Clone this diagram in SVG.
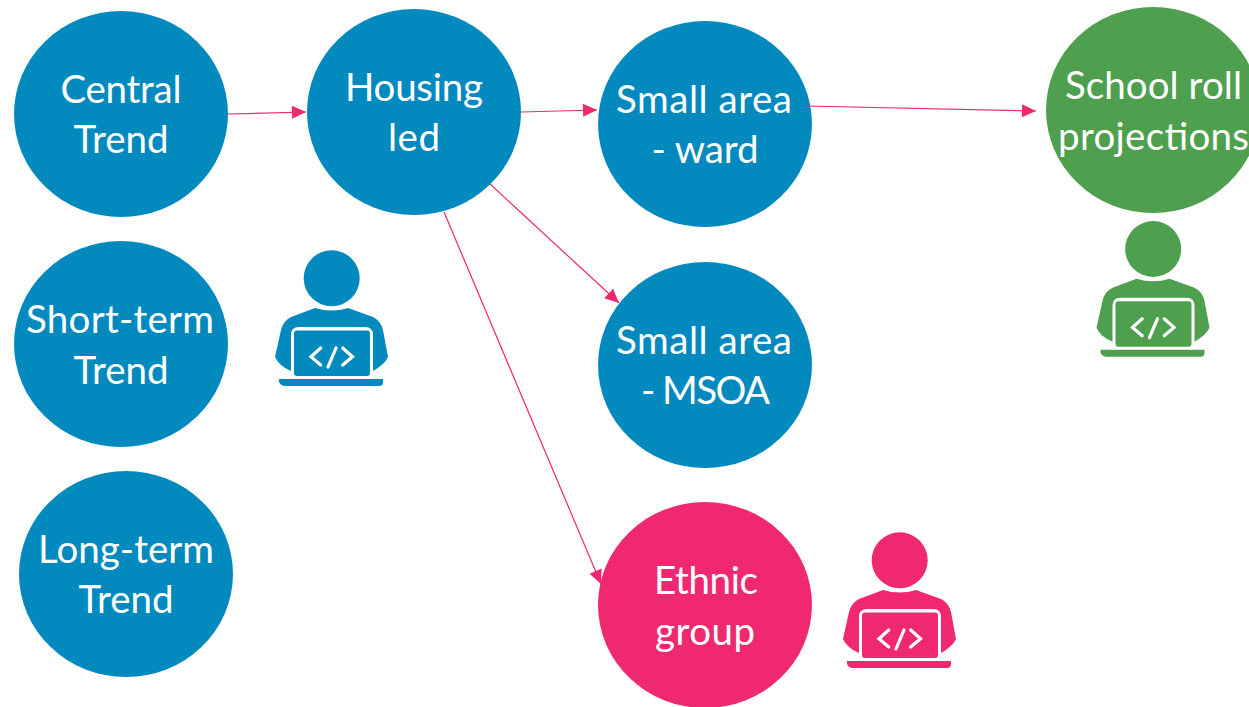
<svg xmlns="http://www.w3.org/2000/svg" xmlns:xlink="http://www.w3.org/1999/xlink" width="1249" height="707" viewBox="0 0 1249 707">
<style>
text{font-family:"Lato","Open Sans",sans-serif;font-size:38.5px;fill:#fff;text-anchor:middle}
.blue{fill:#028ABF}.green{fill:#4EA04F}.pink{fill:#F0286F}
.link{stroke:#F0286F;stroke-width:1.2;fill:none;marker-end:url(#arrow)}
.code{stroke:#fff;stroke-width:3.2;fill:none;stroke-linecap:round}
</style>
<defs>
<marker id="arrow" markerUnits="userSpaceOnUse" markerWidth="16" markerHeight="14" refX="15" refY="7" orient="auto"><path d="M1,0.5 L15,7 L1,13.5 Z" fill="#F0286F"/></marker>
<g id="coder">
<circle cx="71.7" cy="38.3" r="28"/>
<path d="M55,68 Q72,73 88,68 L113,77 Q121,81 123,90 L128,117 Q125,124 113,131 L113,95 Q113,87 105,87 L39,87 Q31,87 31,95 L31,131 Q19,126 15,117 L21,90 Q23,81 31,77 Z"/>
<rect x="34" y="90.5" width="76" height="45.5" rx="3"/>
<path d="M19,139 H123 V142 Q123,146 119,146 H25 Q21,146 19,142 Z"/>
<path class="code" d="M60.7,108 L51,116.7 L60.7,125 M76,108 L68,127 M82.7,108 L92.5,116.7 L82.7,125"/>
</g>
</defs>
<g id="central-trend"><ellipse class="blue" cx="121" cy="114" rx="107" ry="103"/><text x="121" y="103" textLength="121">Central</text><text x="121" y="153" textLength="95">Trend</text></g>
<g id="housing-led"><ellipse class="blue" cx="414" cy="112" rx="107" ry="103"/><text x="414" y="101" textLength="138">Housing</text><text x="414" y="151" textLength="52">led</text></g>
<g id="small-area-ward"><ellipse class="blue" cx="705" cy="124" rx="107" ry="103"/><text x="704" y="113" textLength="176">Small area</text><text x="705" y="163" textLength="107">- ward</text></g>
<g id="school-roll"><ellipse class="green" cx="1153" cy="110" rx="107" ry="103"/><text x="1153.5" y="99" textLength="177">School roll</text><text x="1153.5" y="150" textLength="191">projections</text></g>
<g id="short-term-trend"><ellipse class="blue" cx="121" cy="344" rx="107" ry="103"/><text x="120" y="333" textLength="188">Short-term</text><text x="121" y="384" textLength="95">Trend</text></g>
<g id="small-area-msoa"><ellipse class="blue" cx="705" cy="365" rx="107" ry="103"/><text x="704" y="354" textLength="176">Small area</text><text x="705.5" y="404" textLength="129">- MSOA</text></g>
<g id="long-term-trend"><ellipse class="blue" cx="126" cy="574" rx="107" ry="103"/><text x="126" y="563" textLength="176">Long-term</text><text x="126" y="613" textLength="95">Trend</text></g>
<g id="ethnic-group"><ellipse class="pink" cx="705" cy="605" rx="107" ry="103"/><text x="706" y="594" textLength="104">Ethnic</text><text x="705" y="645" textLength="100">group</text></g>
<g id="coder-blue" class="blue"><use xlink:href="#coder" href="#coder" x="260" y="240"/></g>
<g id="coder-green" class="green"><use xlink:href="#coder" href="#coder" x="1081.5" y="210.7"/></g>
<g id="coder-pink" class="pink"><use xlink:href="#coder" href="#coder" x="828" y="522"/></g>
<g id="connectors">
<line class="link" x1="228" y1="114" x2="306" y2="112"/>
<line class="link" x1="521" y1="112" x2="597" y2="110"/>
<line class="link" x1="806" y1="106" x2="1036" y2="111"/>
<line class="link" x1="490" y1="184" x2="619" y2="303"/>
<line class="link" x1="444" y1="212" x2="601" y2="584"/>
</g>
</svg>
